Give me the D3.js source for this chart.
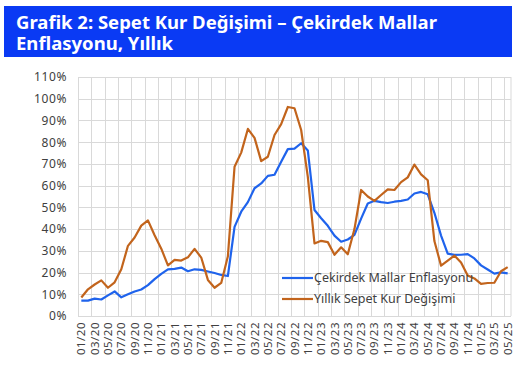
<!DOCTYPE html>
<html>
<head>
<meta charset="utf-8">
<script src="https://cdn.jsdelivr.net/npm/d3@7"></script>
<style>
  body { margin: 0; background: #fff; }
  text { font-family: "Noto Sans", sans-serif; }
</style>
</head>
<body>
<script>
"use strict";

var titleLines = ["Grafik 2: Sepet Kur Değişimi – Çekirdek Mallar", "Enflasyonu, Yıllık"];

var months = [
  "01/20","02/20","03/20","04/20","05/20","06/20","07/20","08/20","09/20","10/20","11/20","12/20",
  "01/21","02/21","03/21","04/21","05/21","06/21","07/21","08/21","09/21","10/21","11/21","12/21",
  "01/22","02/22","03/22","04/22","05/22","06/22","07/22","08/22","09/22","10/22","11/22","12/22",
  "01/23","02/23","03/23","04/23","05/23","06/23","07/23","08/23","09/23","10/23","11/23","12/23",
  "01/24","02/24","03/24","04/24","05/24","06/24","07/24","08/24","09/24","10/24","11/24","12/24",
  "01/25","02/25","03/25","04/25","05/25"
];

var coreGoods = [
  7.1, 7.1, 8.0, 7.6, 9.5, 11.3, 8.6, 10.0, 11.3, 12.2, 14.2, 17.0,
  19.4, 21.5, 21.7, 22.3, 20.6, 21.5, 21.2, 20.5, 19.8, 18.9, 18.4, 41.0,
  48.0, 52.4, 58.8, 61.0, 64.5, 65.0, 71.0, 76.8, 77.0, 79.5, 76.2, 48.8,
  45.0, 41.5, 37.0, 34.2, 35.2, 37.3, 44.8, 51.8, 53.0, 52.4, 52.0, 52.6,
  53.0, 53.6, 56.4, 57.1, 56.0, 47.5, 37.0, 28.7, 28.1, 28.2, 28.5, 26.5,
  23.3, 21.4, 19.5, 20.1, 19.6
];

var basketFx = [
  8.5, 12.3, 14.5, 16.4, 13.0, 15.5, 21.5, 32.3, 36.1, 41.6, 44.0, 37.2,
  31.0, 23.3, 25.8, 25.5, 27.0, 30.9, 26.9, 16.6, 13.0, 15.2, 27.5, 68.7,
  75.2, 86.1, 82.0, 71.3, 73.3, 83.3, 88.3, 96.2, 95.6, 85.6, 64.0, 33.4,
  34.6, 34.0, 28.2, 31.6, 28.4, 40.0, 58.0, 55.0, 53.0, 55.7, 58.3, 58.0,
  61.6, 63.8, 69.7, 65.2, 62.5, 34.5, 23.2, 25.5, 27.8, 24.6, 18.6, 17.3,
  14.8, 15.2, 15.3, 20.6, 22.5
];

var seriesNames = ["Çekirdek Mallar Enflasyonu", "Yıllık Sepet Kur Değişimi"];
var seriesColors = ["#1f63ec", "#c2641c"];

var yTicks = [0, 10, 20, 30, 40, 50, 60, 70, 80, 90, 100, 110];

var W = 532, H = 365;
var margin = {top: 77, right: 21, bottom: 49, left: 78};
var width = W - margin.left - margin.right;
var height = H - margin.top - margin.bottom;

var svg = d3.select("body").append("svg")
  .attr("width", W)
  .attr("height", H);

// title band

svg.append("rect")
  .attr("x", 4).attr("y", 6)
  .attr("width", 508).attr("height", 51)
  .attr("fill", "#0a3af4");

svg.selectAll(".title")
  .data(titleLines)
  .enter().append("text")
  .attr("class", "title")
  .attr("x", 16)
  .attr("y", function(d, i) { return 29 + i * 21; })
  .attr("fill", "#fff")
  .attr("font-size", "18.5px")
  .attr("font-weight", "bold")
  .text(function(d) { return d; });

var chart = svg.append("g")
  .attr("transform", "translate(" + margin.left + "," + margin.top + ")");

// scales

var x = d3.scaleBand()
  .domain(months)
  .range([0, width]);

var y = d3.scaleLinear()
  .domain([0, 110])
  .range([height, 0]);

var xc = function(m) { return x(m) + x.bandwidth() / 2; };

// grid

var gridX = months.filter(function(d, i) { return i % 2 === 0; });

chart.selectAll(".vgrid")
  .data(gridX.concat(["end"]))
  .enter().append("line")
  .attr("class", "vgrid")
  .attr("x1", function(d) { return d === "end" ? width : Math.round(x(d)) + 0.5; })
  .attr("x2", function(d) { return d === "end" ? width : Math.round(x(d)) + 0.5; })
  .attr("y1", 0)
  .attr("y2", height)
  .attr("stroke", "#d9d9d9")
  .attr("stroke-width", 1);

chart.selectAll(".hgrid")
  .data(yTicks)
  .enter().append("line")
  .attr("class", "hgrid")
  .attr("x1", 0)
  .attr("x2", width)
  .attr("y1", function(d) { return Math.round(y(d)) + 0.5; })
  .attr("y2", function(d) { return Math.round(y(d)) + 0.5; })
  .attr("stroke", "#d9d9d9")
  .attr("stroke-width", 1);

// axes

var yAxis = d3.axisLeft(y)
  .tickValues(yTicks)
  .tickSize(0)
  .tickPadding(11)
  .tickFormat(function(d) { return d + "%"; });

chart.append("g")
  .attr("class", "y-axis")
  .call(yAxis)
  .call(function(g) { g.select(".domain").remove(); })
  .selectAll("text")
  .attr("font-family", "Noto Sans")
  .attr("font-size", "12px")
  .attr("letter-spacing", "0.6px")
  .attr("fill", "#404040");

var xAxis = d3.axisBottom(x)
  .tickValues(gridX)
  .tickSize(0);

chart.append("g")
  .attr("class", "x-axis")
  .attr("transform", "translate(0," + height + ")")
  .call(xAxis)
  .call(function(g) { g.select(".domain").remove(); })
  .selectAll("text")
  .attr("font-family", "Noto Sans")
  .attr("font-size", "11.5px")
  .attr("letter-spacing", "0.5px")
  .attr("fill", "#404040")
  .attr("text-anchor", "end")
  .attr("transform", "rotate(-90)")
  .attr("x", -6)
  .attr("y", 0)
  .attr("dy", "0.35em");

// lines

var line = d3.line()
  .x(function(d, i) { return xc(months[i]); })
  .y(function(d) { return y(d); });

chart.selectAll(".series")
  .data([coreGoods, basketFx])
  .enter().append("path")
  .attr("class", "series")
  .attr("d", line)
  .attr("fill", "none")
  .attr("stroke", function(d, i) { return seriesColors[i]; })
  .attr("stroke-width", 2.2)
  .attr("stroke-linejoin", "round");

// legend

var legend = svg.append("g")
  .attr("transform", "translate(282,278)");

var item = legend.selectAll(".item")
  .data(seriesNames)
  .enter().append("g")
  .attr("class", "item")
  .attr("transform", function(d, i) { return "translate(0," + i * 21 + ")"; });

item.append("line")
  .attr("x1", 0).attr("x2", 31)
  .attr("stroke", function(d, i) { return seriesColors[i]; })
  .attr("stroke-width", 2.2);

item.append("text")
  .attr("x", 32)
  .attr("dy", "0.35em")
  .attr("font-size", "12.5px")
  .attr("fill", "#404040")
  .text(function(d) { return d; });

</script>
</body>
</html>
